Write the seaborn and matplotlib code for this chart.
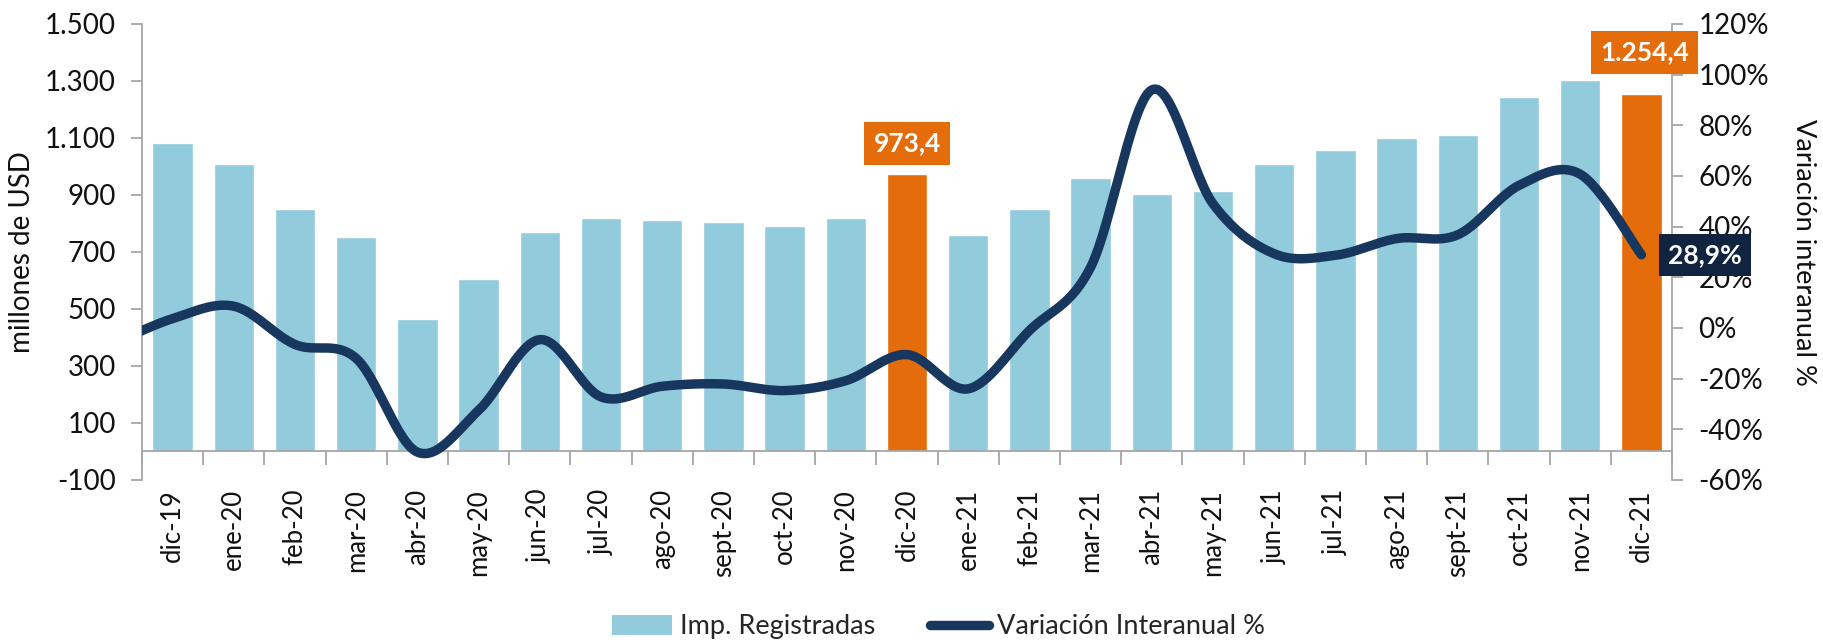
import numpy as np
import pandas as pd
import matplotlib
matplotlib.use("Agg")
import matplotlib.pyplot as plt
from matplotlib.patches import Patch
from matplotlib.lines import Line2D
import seaborn as sns

# ---------------- data ----------------
categories = ["dic-19", "ene-20", "feb-20", "mar-20", "abr-20", "may-20", "jun-20",
              "jul-20", "ago-20", "sept-20", "oct-20", "nov-20", "dic-20",
              "ene-21", "feb-21", "mar-21", "abr-21", "may-21", "jun-21",
              "jul-21", "ago-21", "sept-21", "oct-21", "nov-21", "dic-21"]
imports = [1083, 1010, 851, 753, 465, 606, 771, 820, 813, 804, 790, 818, 973.4,
           758, 850, 960, 903, 913, 1009, 1058, 1099, 1111, 1245, 1304, 1254.4]
# year-on-year variation (%); first value is the preceding month (nov-19),
# which is only partly visible at the left edge of the chart
variation_prev = [-6.5]
variation = [3.7, 8.6, -6.5, -12.0, -49.0, -32.5, -4.6, -27.2, -23.0, -22.1,
             -24.7, -20.8, -10.5, -24.0, -1.0, 24.0, 94.0, 49.0, 29.3, 28.7,
             35.3, 36.8, 56.3, 60.7, 28.9]
highlight = ["dic-20", "dic-21"]
left_ticks = [-100, 100, 300, 500, 700, 900, 1100, 1300, 1500]
right_ticks = [-60, -40, -20, 0, 20, 40, 60, 80, 100, 120]

BLUE = "#92CBDC"
ORANGE = "#E46C0A"
NAVY = "#17375E"
DARKNAVY = "#10243F"
GREY = "#A6A6A6"

sns.set_theme(style="white")
plt.rcParams["font.family"] = ["Lato", "DejaVu Sans"]

df = pd.DataFrame({"mes": categories, "imp": imports})
palette = {c: (ORANGE if c in highlight else BLUE) for c in categories}

fig = plt.figure(figsize=(18.23, 6.43), dpi=100)
ax = fig.add_axes([0.0779, 0.2535, 0.8393, 0.7092])
sns.barplot(data=df, x="mes", y="imp", hue="mes", palette=palette, dodge=False,
            legend=False, width=0.66, saturation=1, ax=ax)
ax.set_xlim(-0.5, len(categories) - 0.5)
ax.set_ylim(-100, 1500)
ax.set_yticks(left_ticks)
ax.set_yticklabels([f"{v:,}".replace(",", ".") for v in left_ticks])
ax.set_xlabel("")
ax.set_ylabel("millones de USD", fontsize=20, color="#111111")
ax.yaxis.set_label_coords(-0.07, 0.5)

for s in ["top", "right"]:
    ax.spines[s].set_visible(False)
ax.spines["left"].set_color(GREY)
ax.spines["left"].set_linewidth(1.3)
ax.spines["bottom"].set_position(("data", 0))
ax.spines["bottom"].set_color(GREY)
ax.spines["bottom"].set_linewidth(1.3)

ax.tick_params(axis="y", which="major", direction="out", length=8, width=1.3,
               color=GREY, labelsize=20, pad=11, labelcolor="#111111", left=True)
ax.set_xticks(np.arange(len(categories)))
ax.set_xticklabels(categories, rotation=90)
ax.tick_params(axis="x", which="major", length=0, pad=27, labelsize=18.5,
               labelcolor="#111111", bottom=True)
ax.set_xticks(np.arange(len(categories) + 1) - 0.5, minor=True)
ax.tick_params(axis="x", which="minor", direction="out", length=10, width=1.3,
               color=GREY, bottom=True)
for lbl in ax.get_xticklabels():
    lbl.set_va("top")

# ---------------- line (secondary axis) ----------------
ax2 = ax.twinx()
ax2.set_ylim(-60, 120)
ax2.set_yticks(right_ticks)
ax2.set_yticklabels([f"{v}%" for v in right_ticks])
ax2.tick_params(axis="y", direction="out", length=8, width=1.3, color=GREY,
                labelsize=20, pad=11, labelcolor="#111111", right=True)
for s in ["top", "left", "bottom"]:
    ax2.spines[s].set_visible(False)
ax2.spines["right"].set_color(GREY)
ax2.spines["right"].set_linewidth(1.3)
ax2.set_ylabel("Variación interanual %", fontsize=19.5, rotation=-90,
               color="#111111")
ax2.yaxis.set_label_coords(1.094, 0.5)

yl = np.array(variation_prev + variation, dtype=float)
xl = np.arange(len(yl), dtype=float) - len(variation_prev)


def excel_smooth(x, y, n=30):
    """Bezier smoothing as used by spreadsheet 'smoothed line' charts."""
    xs, ys = [], []
    m = len(x)
    for i in range(m - 1):
        i0 = max(i - 1, 0)
        i3 = min(i + 2, m - 1)
        c1x = x[i] + (x[i + 1] - x[i0]) / 6
        c1y = y[i] + (y[i + 1] - y[i0]) / 6
        c2x = x[i + 1] - (x[i3] - x[i]) / 6
        c2y = y[i + 1] - (y[i3] - y[i]) / 6
        t = np.linspace(0, 1, n, endpoint=(i == m - 2))
        a, b, c, d = (1 - t) ** 3, 3 * (1 - t) ** 2 * t, 3 * (1 - t) * t ** 2, t ** 3
        xs.append(a * x[i] + b * c1x + c * c2x + d * x[i + 1])
        ys.append(a * y[i] + b * c1y + c * c2y + d * y[i + 1])
    return np.concatenate(xs), np.concatenate(ys)


sx, sy = excel_smooth(xl, yl)
sns.lineplot(x=sx, y=sy, sort=False, color=NAVY, linewidth=6.8, ax=ax2,
             estimator=None)
for ln in ax2.get_lines():
    ln.set_solid_capstyle("round")
ax2.set_xlim(-0.5, len(categories) - 0.5)

# ---------------- annotations ----------------
i20 = categories.index("dic-20")
i21 = categories.index("dic-21")
ax2.annotate("973,4", xy=(i20, imports[i20]), xycoords=ax.transData,
             xytext=(0, 22), textcoords="offset points", ha="center", va="center",
             fontsize=19, fontweight="bold", color="white", zorder=10,
             annotation_clip=False,
             bbox=dict(boxstyle="square,pad=0.35", fc=ORANGE, ec="none"))
ax2.annotate("1.254,4", xy=(i21, imports[i21]), xycoords=ax.transData,
             xytext=(2, 30), textcoords="offset points", ha="center", va="center",
             fontsize=19, fontweight="bold", color="white", zorder=10,
             annotation_clip=False,
             bbox=dict(boxstyle="square,pad=0.35", fc=ORANGE, ec="none"))
ax2.annotate("28,9%", xy=(i21, variation[-1]), xycoords="data",
             xytext=(46, 0), textcoords="offset points", ha="center", va="center",
             fontsize=19, fontweight="bold", color="white", zorder=10,
             annotation_clip=False,
             bbox=dict(boxstyle="square,pad=0.35", fc=DARKNAVY, ec="none"))

# ---------------- legend ----------------
handles = [Patch(facecolor=BLUE, edgecolor="none", label="Imp. Registradas"),
           Line2D([0], [0], color=NAVY, linewidth=6.8, solid_capstyle="round",
                  label="Variación Interanual %")]
fig.legend(handles=handles, loc="center", bbox_to_anchor=(0.515, 0.025), ncol=2,
           frameon=False, fontsize=19.5, handlelength=2.2, handleheight=0.8,
           columnspacing=2.0, handletextpad=0.3)

fig.savefig("out.png", dpi=100, facecolor="white")
